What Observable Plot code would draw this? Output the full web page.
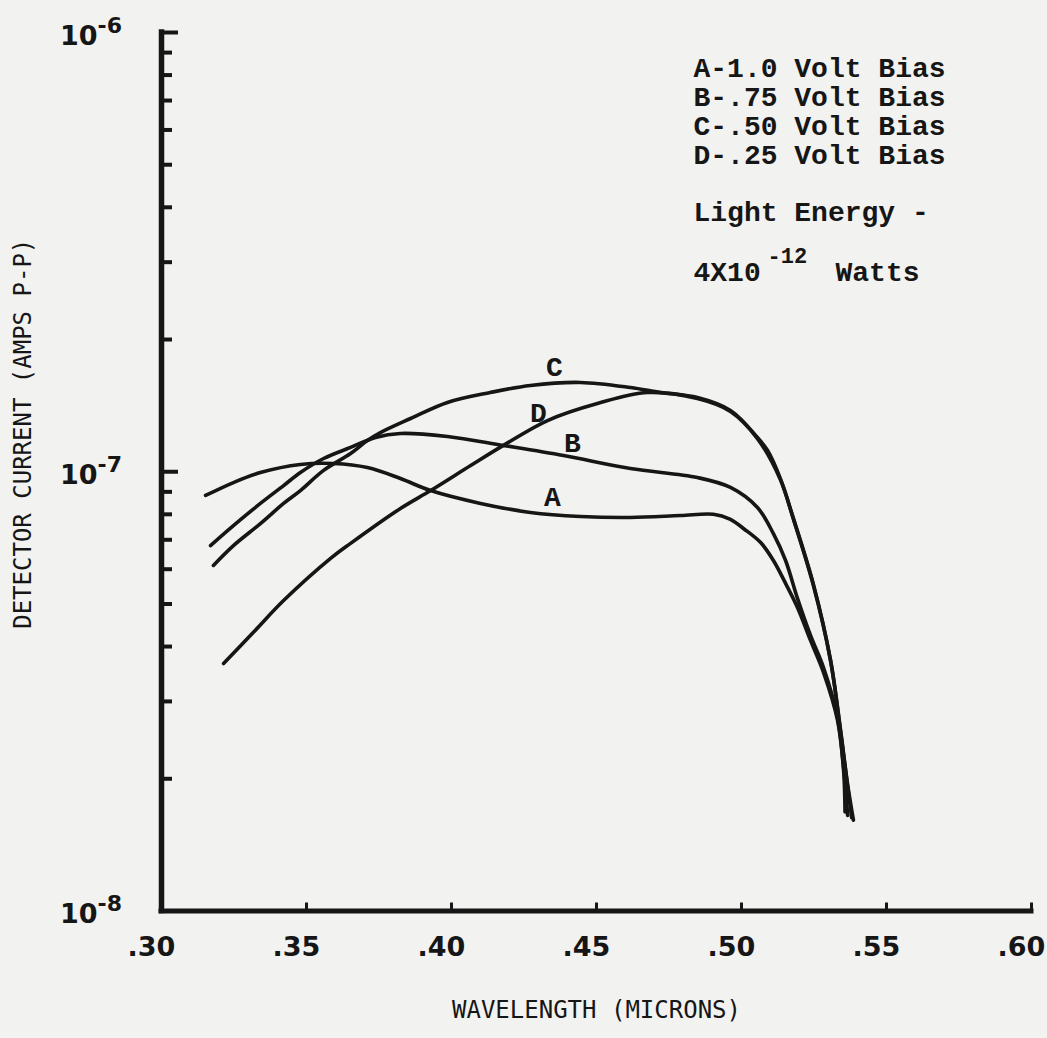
<!DOCTYPE html>
<html>
<head>
<meta charset="utf-8">
<script src="https://cdn.jsdelivr.net/npm/d3@7"></script>
<script src="https://cdn.jsdelivr.net/npm/@observablehq/plot@0.6"></script>
<style>
  html, body { margin: 0; padding: 0; background: #f2f2f0; }
  #chart svg { display: block; }
</style>
</head>
<body>
<div id="chart"></div>
<script>
// ---- data (wavelength in microns, current in amps p-p) ----
const wavelengthA = [0.3152, 0.3248, 0.3341, 0.3479, 0.3593, 0.3710, 0.3824, 0.3928, 0.4100, 0.4272, 0.4445, 0.4617, 0.4790, 0.4903, 0.4960, 0.5010, 0.5066, 0.5110, 0.5152, 0.5193, 0.5238, 0.5283, 0.5331, 0.5352, 0.5357];
const currentA    = [0.883e-7, 0.945e-7, 0.996e-7, 1.039e-7, 1.044e-7, 1.022e-7, 0.965e-7, 0.906e-7, 0.847e-7, 0.808e-7, 0.791e-7, 0.787e-7, 0.795e-7, 0.800e-7, 0.780e-7, 0.740e-7, 0.690e-7, 0.628e-7, 0.557e-7, 0.491e-7, 0.413e-7, 0.349e-7, 0.272e-7, 0.209e-7, 0.168e-7];

const wavelengthB = [0.3169, 0.3248, 0.3341, 0.3421, 0.3479, 0.3559, 0.3652, 0.3738, 0.3824, 0.3986, 0.4179, 0.4386, 0.4617, 0.4848, 0.4962, 0.5055, 0.5110, 0.5152, 0.5193, 0.5238, 0.5283, 0.5331, 0.5352, 0.5366];
const currentB    = [0.679e-7, 0.754e-7, 0.847e-7, 0.930e-7, 0.996e-7, 1.072e-7, 1.136e-7, 1.197e-7, 1.222e-7, 1.203e-7, 1.148e-7, 1.089e-7, 1.017e-7, 0.970e-7, 0.921e-7, 0.829e-7, 0.723e-7, 0.628e-7, 0.515e-7, 0.424e-7, 0.358e-7, 0.276e-7, 0.212e-7, 0.165e-7];

const wavelengthC = [0.3179, 0.3248, 0.3341, 0.3421, 0.3479, 0.3559, 0.3652, 0.3710, 0.3755, 0.3859, 0.3986, 0.4134, 0.4272, 0.4445, 0.4617, 0.4721, 0.4848, 0.4962, 0.5055, 0.5090, 0.5134, 0.5179, 0.5248, 0.5307, 0.5341, 0.5366, 0.5386];
const currentC    = [0.612e-7, 0.679e-7, 0.762e-7, 0.847e-7, 0.906e-7, 1.007e-7, 1.100e-7, 1.178e-7, 1.228e-7, 1.322e-7, 1.438e-7, 1.515e-7, 1.572e-7, 1.597e-7, 1.555e-7, 1.515e-7, 1.476e-7, 1.379e-7, 1.197e-7, 1.118e-7, 0.965e-7, 0.783e-7, 0.554e-7, 0.372e-7, 0.260e-7, 0.194e-7, 0.161e-7];

const wavelengthD = [0.3214, 0.3317, 0.3421, 0.3583, 0.3652, 0.3824, 0.3928, 0.4066, 0.4179, 0.4331, 0.4503, 0.4676, 0.4848, 0.4962, 0.5055, 0.5134, 0.5179, 0.5248, 0.5307, 0.5341, 0.5366, 0.5380];
const currentD    = [0.366e-7, 0.431e-7, 0.509e-7, 0.635e-7, 0.687e-7, 0.825e-7, 0.906e-7, 1.033e-7, 1.148e-7, 1.308e-7, 1.430e-7, 1.515e-7, 1.468e-7, 1.372e-7, 1.190e-7, 0.960e-7, 0.780e-7, 0.551e-7, 0.372e-7, 0.258e-7, 0.192e-7, 0.163e-7];

// curve letters placed on the chart
const labelNames      = ["A", "B", "C", "D"];
const labelWavelength = [0.4348, 0.4417, 0.4355, 0.4300];
const labelCurrent    = [0.878e-7, 1.160e-7, 1.727e-7, 1.364e-7];

// axes
const xTicks      = [0.30, 0.35, 0.40, 0.45, 0.50, 0.55, 0.60];
const xTickLabels = [".30", ".35", ".40", ".45", ".50", ".55", ".60"];
const yMajorTicks = [1e-8, 1e-7, 1e-6];
const yExponents  = ["-8", "-7", "-6"];
const yMinorTicks = [2e-8, 3e-8, 4e-8, 5e-8, 6e-8, 7e-8, 8e-8, 9e-8, 2e-7, 3e-7, 4e-7, 5e-7, 6e-7, 7e-7, 8e-7, 9e-7];

// text
const xTitle = "WAVELENGTH (MICRONS)";
const yTitle = "DETECTOR CURRENT (AMPS P-P)";
const legendLines = ["A-1.0 Volt Bias", "B-.75 Volt Bias", "C-.50 Volt Bias", "D-.25 Volt Bias"];
const energyLine = "Light Energy -";
const energyBase = "4X10";
const energyExp = "-12";
const energyUnit = "Watts";

// ---- build tables ----
const seriesList = [
  {key: "A", wl: wavelengthA, cur: currentA},
  {key: "B", wl: wavelengthB, cur: currentB},
  {key: "C", wl: wavelengthC, cur: currentC},
  {key: "D", wl: wavelengthD, cur: currentD}
];
const rows = seriesList.flatMap(s => s.wl.map((w, i) => ({series: s.key, wavelength: w, current: s.cur[i]})));
const labelRows = labelNames.map((n, i) => ({name: n, wavelength: labelWavelength[i], current: labelCurrent[i]}));
const xTickRows = xTicks.map((v, i) => ({v, label: xTickLabels[i]}));
const yMajorRows = yMajorTicks.map((v, i) => ({v, exp: yExponents[i]}));

const W = 1047, H = 1038;
const mL = 161, mR = 16, mT = 32, mB = 127.5;
const frameW = W - mL - mR;
const frameH = H - mT - mB;
const ink = "#161616";
const paper = "#f2f2f0";
const typewriter = "Liberation Mono";
const lettering = "DejaVu Sans";
const gothic = "DejaVu Sans Mono";

const chart = Plot.plot({
  width: W,
  height: H,
  marginLeft: mL,
  marginRight: mR,
  marginTop: mT,
  marginBottom: mB,
  style: {background: paper, color: ink},
  x: {type: "linear", domain: [0.30, 0.60], axis: null},
  y: {type: "log", domain: [1e-8, 1e-6], axis: null},
  marks: [
    // y ticks (inward)
    Plot.ruleY(yMinorTicks, {y: d => d, stroke: ink, strokeWidth: 4, insetRight: frameW - 11}),
    Plot.ruleY(yMajorTicks.slice(1), {y: d => d, stroke: ink, strokeWidth: 4, insetRight: frameW - 17}),
    // x ticks (inward)
    Plot.ruleX(xTicks.slice(1), {x: d => d, stroke: ink, strokeWidth: 3, insetTop: frameH - 8}),
    // axis lines
    Plot.ruleX([0.30], {x: d => d, stroke: ink, strokeWidth: 5.5, strokeLinecap: "square"}),
    Plot.ruleY([1e-8], {y: d => d, stroke: ink, strokeWidth: 5, strokeLinecap: "square"}),
    // curves
    Plot.line(rows, {x: "wavelength", y: "current", z: "series", stroke: ink, strokeWidth: 3.6, curve: "catmull-rom", strokeLinejoin: "round", strokeLinecap: "round"}),
    // curve letters
    Plot.text(labelRows, {x: "wavelength", y: "current", text: "name", fill: ink, fontFamily: typewriter, fontWeight: "bold", fontSize: 28, lineAnchor: "middle"}),
    // x tick labels
    Plot.text(xTickRows, {x: "v", text: "label", frameAnchor: "bottom", dy: 44.5, dx: -10, lineAnchor: "bottom", fill: ink, fontFamily: lettering, fontWeight: "bold", fontSize: 27}),
    // y tick labels: "10" and exponent
    Plot.text(yMajorRows, {y: "v", text: () => "10", frameAnchor: "left", textAnchor: "end", dx: -64, dy: 12, lineAnchor: "bottom", fill: ink, fontFamily: lettering, fontWeight: "bold", fontSize: 27}),
    Plot.text(yMajorRows, {y: "v", text: "exp", frameAnchor: "left", textAnchor: "start", dx: -64, dy: 0, lineAnchor: "bottom", fill: ink, fontFamily: lettering, fontWeight: "bold", fontSize: 22}),
    // axis titles
    Plot.text([xTitle], {text: d => d, frameAnchor: "bottom", textAnchor: "middle", dy: 99.5, lineAnchor: "middle", fill: ink, fontFamily: gothic, fontSize: 24}),
    Plot.text([yTitle], {text: d => d, frameAnchor: "left", textAnchor: "middle", dx: -138, dy: -38, rotate: -90, lineAnchor: "middle", fill: ink, fontFamily: gothic, fontSize: 24}),
    // legend block
    Plot.text([legendLines.join("\n")], {text: d => d, frameAnchor: "top-left", dx: 532, dy: 131, textAnchor: "start", lineAnchor: "bottom", lineHeight: 1.025, fill: ink, fontFamily: typewriter, fontWeight: "bold", fontSize: 28}),
    Plot.text([energyLine], {text: d => d, frameAnchor: "top-left", dx: 532, dy: 188, textAnchor: "start", lineAnchor: "bottom", fill: ink, fontFamily: typewriter, fontWeight: "bold", fontSize: 28}),
    Plot.text([energyBase], {text: d => d, frameAnchor: "top-left", dx: 532, dy: 248, textAnchor: "start", lineAnchor: "bottom", fill: ink, fontFamily: typewriter, fontWeight: "bold", fontSize: 28}),
    Plot.text([energyExp], {text: d => d, frameAnchor: "top-left", dx: 606, dy: 230, textAnchor: "start", lineAnchor: "bottom", fill: ink, fontFamily: typewriter, fontWeight: "bold", fontSize: 22}),
    Plot.text([energyUnit], {text: d => d, frameAnchor: "top-left", dx: 674, dy: 248, textAnchor: "start", lineAnchor: "bottom", fill: ink, fontFamily: typewriter, fontWeight: "bold", fontSize: 28})
  ]
});

document.getElementById("chart").append(chart);
</script>
</body>
</html>
